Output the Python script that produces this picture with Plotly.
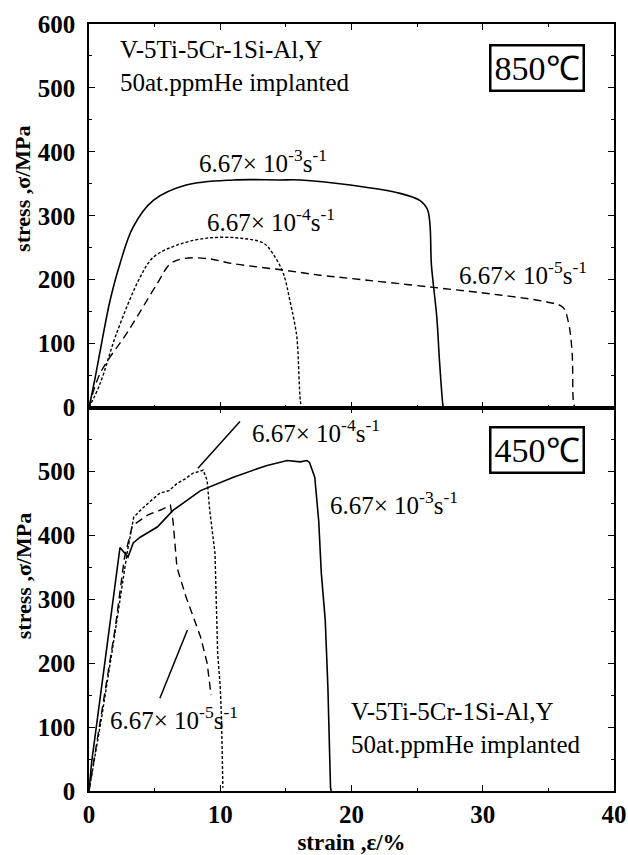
import plotly.graph_objects as go

# ---------------- data (strain %, stress MPa) ----------------
# 850 C panel
hot_fast_x = [0, 0.5, 1.0, 1.6, 2.36, 3.35, 4.9, 7.4, 11.0, 14.5, 16.1, 19.9, 23.7, 25.2, 25.8, 26.1, 26.5, 26.7, 26.95, 27.0]
hot_fast_y = [0, 50, 105, 167, 225, 282, 324, 348, 356, 356, 356, 348, 335, 324, 309, 220, 141, 74, 6, 0]
hot_mid_x = [0, 0.84, 2.1, 3.9, 4.9, 6.7, 9.0, 11.5, 13.3, 14.0, 14.8, 15.3, 15.8, 15.9, 16.1, 16.2]
hot_mid_y = [0, 37, 116, 204, 235, 254, 265, 265, 257, 241, 210, 168, 116, 94, 11, 0]
hot_slow_x = [0, 0.84, 3.0, 5.2, 6.2, 7.2, 9.0, 11.0, 14.8, 17.6, 19.9, 26.2, 31.3, 34.9, 36.1, 36.5, 36.8, 36.9, 37.0]
hot_slow_y = [0, 53, 120, 194, 225, 233, 233, 225, 215, 207, 202, 188, 176, 165, 157, 136, 89, 11, 0]

# 450 C panel
warm_fast_x = [0, 0.2, 1.2, 2.36, 2.6, 2.97, 3.37, 3.9, 5.2, 6.4, 8.5, 11.0, 13.5, 15.1, 16.1, 16.6, 16.8, 17.2, 17.5, 17.7, 18.0, 18.2, 18.4, 18.45]
warm_fast_y = [0, 45, 200, 381, 375, 366, 388, 397, 413, 439, 470, 491, 509, 517, 515, 517, 514, 491, 423, 341, 267, 163, 6, 0]
warm_mid_x = [0, 1.0, 2.0, 2.9, 3.4, 3.9, 4.6, 5.4, 6.1, 6.7, 7.3, 7.9, 8.4, 8.7, 9.0, 9.2, 9.6, 9.8, 10.0, 10.1, 10.2]
warm_mid_y = [0, 120, 250, 372, 428, 439, 452, 466, 470, 481, 488, 497, 500, 502, 486, 439, 372, 216, 163, 111, 5]
warm_slow_x = [0, 1.0, 2.0, 2.7, 3.3, 4.5, 5.5, 6.2, 6.4, 6.7, 7.4, 8.5, 9.0, 9.3]
warm_slow_y = [0, 125, 255, 365, 415, 432, 440, 447, 423, 350, 303, 241, 200, 150]

x_ticks = [0, 10, 20, 30, 40]
y_ticks_top = [0, 100, 200, 300, 400, 500, 600]
y_ticks_bottom = [0, 100, 200, 300, 400, 500]

rate3 = "6.67\u00d7 10<sup>-3</sup>s<sup>-1</sup>"
rate4 = "6.67\u00d7 10<sup>-4</sup>s<sup>-1</sup>"
rate5 = "6.67\u00d7 10<sup>-5</sup>s<sup>-1</sup>"
alloy = "V-5Ti-5Cr-1Si-Al,Y<br>50at.ppmHe implanted"

SERIF = "Liberation Serif"
BLK = "black"

fig = go.Figure()
solid = dict(color=BLK, width=1.6)
dotted = dict(color=BLK, width=1.4, dash="3px,2px")
dashed = dict(color=BLK, width=1.4, dash="8px,5px")

fig.add_trace(go.Scatter(x=hot_fast_x, y=hot_fast_y, mode="lines", line=solid, xaxis="x2", yaxis="y2", line_shape="spline"))
fig.add_trace(go.Scatter(x=hot_mid_x, y=hot_mid_y, mode="lines", line=dotted, xaxis="x2", yaxis="y2", line_shape="spline"))
fig.add_trace(go.Scatter(x=hot_slow_x, y=hot_slow_y, mode="lines", line=dashed, xaxis="x2", yaxis="y2", line_shape="spline"))
fig.add_trace(go.Scatter(x=warm_fast_x, y=warm_fast_y, mode="lines", line=solid, xaxis="x", yaxis="y"))
fig.add_trace(go.Scatter(x=warm_mid_x, y=warm_mid_y, mode="lines", line=dotted, xaxis="x", yaxis="y"))
fig.add_trace(go.Scatter(x=warm_slow_x, y=warm_slow_y, mode="lines", line=dashed, xaxis="x", yaxis="y"))

tickfont = dict(family=SERIF, size=25, color=BLK, weight="bold")
minor_y = dict(dtick=50, ticklen=3, tickcolor=BLK, ticks="inside", tickwidth=1)
minor_x = dict(dtick=5, ticklen=3, tickcolor=BLK, ticks="inside", tickwidth=1)
axis_common = dict(showline=True, linecolor=BLK, linewidth=1.5, mirror="ticks",
                   ticks="inside", ticklen=6, tickwidth=1.2, tickcolor=BLK,
                   showgrid=False, zeroline=False, tickfont=tickfont, automargin=False)

fig.update_layout(
    width=628, height=855,
    margin=dict(l=89, r=14, t=24, b=64, autoexpand=False),
    plot_bgcolor="white", paper_bgcolor="white",
    showlegend=False,
    font=dict(family=SERIF, color=BLK, size=24),
    xaxis=dict(range=[0, 40], tickvals=x_ticks, anchor="y", minor=minor_x,
               title=dict(text="strain ,\u03b5/%", font=dict(family=SERIF, size=23, weight="bold"), standoff=14),
               **axis_common),
    xaxis2=dict(range=[0, 40], tickvals=x_ticks, anchor="y2", matches="x", showticklabels=False,
                minor=minor_x, **axis_common),
    yaxis=dict(range=[0, 600], tickvals=y_ticks_bottom, domain=[0, 0.5], anchor="x",
               minor=minor_y, ticklabelstandoff=7, **axis_common),
    yaxis2=dict(range=[0, 600], tickvals=y_ticks_top, domain=[0.5, 1], anchor="x2",
                minor=minor_y, ticklabelstandoff=7, **axis_common),
)

ann_font = dict(family=SERIF, size=25, color=BLK)
ytitle_font = dict(family=SERIF, size=22, color=BLK, weight="bold")
box_font = dict(family=SERIF, size=34, color=BLK)
annotations = [
    # y titles
    dict(text="stress ,\u03c3/MPa", x=-0.1257, xref="paper", xanchor="center", y=0.57, yref="y2 domain",
         yanchor="middle", textangle=-90, showarrow=False, font=ytitle_font),
    dict(text="stress ,\u03c3/MPa", x=-0.1257, xref="paper", xanchor="center", y=0.56, yref="y domain",
         yanchor="middle", textangle=-90, showarrow=False, font=ytitle_font),
    # alloy descriptions
    dict(text=alloy, x=2.2, y=535, xref="x2", yref="y2", xanchor="left", yanchor="middle",
         align="left", showarrow=False, font=ann_font),
    dict(text=alloy, x=19.8, y=98, xref="x", yref="y", xanchor="left", yanchor="middle",
         align="left", showarrow=False, font=ann_font),
    # temperature boxes
    dict(text="850\u2103", x=34.1, y=531, xref="x2", yref="y2", xanchor="center", yanchor="middle",
         showarrow=False, font=box_font,
         bordercolor=BLK, borderwidth=2.5, borderpad=3, bgcolor="white"),
    dict(text="450\u2103", x=34.1, y=534, xref="x", yref="y", xanchor="center", yanchor="middle",
         showarrow=False, font=box_font,
         bordercolor=BLK, borderwidth=2.5, borderpad=3, bgcolor="white"),
    # curve labels, 850 C
    dict(text=rate3, x=8.2, y=385, xref="x2", yref="y2", xanchor="left", yanchor="middle",
         showarrow=False, font=ann_font),
    dict(text=rate4, x=8.8, y=293, xref="x2", yref="y2", xanchor="left", yanchor="middle",
         showarrow=False, font=ann_font),
    dict(text=rate5, x=28.0, y=210, xref="x2", yref="y2", xanchor="left", yanchor="middle",
         showarrow=False, font=ann_font),
    # curve labels, 450 C
    dict(text=rate4, x=12.3, y=564, xref="x", yref="y", xanchor="left", yanchor="middle",
         showarrow=False, font=ann_font),
    dict(text=rate3, x=18.2, y=450, xref="x", yref="y", xanchor="left", yanchor="middle",
         showarrow=False, font=ann_font),
    dict(text=rate5, x=1.45, y=114, xref="x", yref="y", xanchor="left", yanchor="middle",
         showarrow=False, font=ann_font),
]
fig.update_layout(annotations=annotations)

fig.add_shape(type="line", x0=11.5, y0=578, x1=8.3, y1=505, xref="x", yref="y",
              line=dict(color=BLK, width=1.5))
fig.add_shape(type="line", x0=5.4, y0=145, x1=7.5, y1=252, xref="x", yref="y",
              line=dict(color=BLK, width=1.5))

# remove the browser's default 8px body margin so the figure fills the window exactly
fig.write_html("out.html", config={"displayModeBar": False},
               post_script="document.body.style.margin='0';document.body.style.overflow='hidden';")
